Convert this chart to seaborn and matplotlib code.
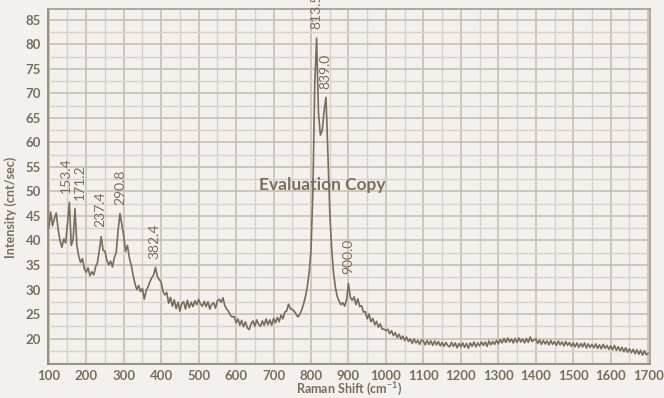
import numpy as np
import pandas as pd
import matplotlib
matplotlib.use('Agg')
import matplotlib.pyplot as plt
from matplotlib.ticker import MultipleLocator
import seaborn as sns

# Raman spectrum at 5 cm-1 steps (100 .. 1700)
shift = np.arange(100, 1701, 5)
intensity = [
    42.5, 45.8, 43.0, 44.5, 45.6, 42.3, 40.0, 38.6, 40.3, 39.5,
    43.5, 47.8, 39.0, 40.2, 46.5, 39.0, 36.8, 35.5, 36.3, 34.2,
    33.5, 34.4, 32.8, 33.6, 33.0, 34.6, 35.5, 38.0, 40.8, 38.0,
    37.8, 36.0, 35.0, 35.8, 34.6, 36.5, 37.5, 42.0, 45.5, 43.2,
    41.0, 37.8, 39.0, 36.5, 35.0, 33.0, 31.2, 30.0, 30.8, 29.6,
    30.2, 28.0, 29.8, 30.5, 31.6, 32.4, 33.0, 34.5, 32.6, 32.0,
    31.5, 29.6, 28.9, 29.4, 27.2, 28.4, 26.6, 27.9, 26.1, 27.4,
    25.6, 27.2, 27.5, 26.0, 27.8, 26.3, 27.4, 26.5, 27.7, 26.9,
    28.0, 27.0, 26.6, 27.6, 26.5, 27.5, 26.0, 27.0, 27.3, 26.2,
    27.7, 28.0, 27.4, 28.3, 26.7, 26.0, 25.5, 24.7, 24.4, 24.5,
    23.2, 24.0, 22.7, 23.7, 22.4, 23.4, 22.2, 21.8, 23.0, 23.6,
    22.5, 23.8, 22.9, 22.5, 23.6, 22.7, 24.0, 22.8, 23.8, 22.7,
    24.1, 23.2, 24.3, 23.4, 24.8, 24.0, 25.4, 25.6, 27.0, 26.1,
    25.9, 25.6, 25.0, 24.4, 24.9, 25.8, 27.0, 28.5, 30.5, 33.5,
    38.0, 50.0, 72.0, 81.3, 66.0, 61.5, 62.5, 66.5, 69.2, 58.0,
    46.0, 38.5, 33.5, 30.5, 28.6, 27.6, 26.9, 27.3, 26.6, 28.0,
    31.2, 28.4, 27.8, 28.5, 26.9, 28.1, 26.5, 26.7, 25.4, 25.5,
    24.0, 25.0, 23.4, 24.1, 22.8, 23.5, 22.3, 23.0, 21.9, 21.9,
    21.6, 21.9, 21.0, 21.6, 20.6, 21.2, 20.2, 20.9, 19.9, 20.5,
    19.6, 20.3, 19.4, 19.9, 19.0, 19.9, 19.1, 19.6, 18.8, 19.7,
    19.5, 18.7, 19.6, 18.8, 19.5, 18.6, 19.5, 18.7, 19.4, 18.5,
    19.2, 18.4, 19.2, 18.6, 18.3, 19.2, 18.4, 19.1, 18.1, 19.0,
    18.3, 19.1, 18.2, 19.0, 18.0, 19.1, 18.4, 19.3, 18.3, 19.1,
    18.5, 19.3, 18.6, 19.3, 18.4, 19.5, 18.7, 19.4, 18.8, 19.6,
    18.9, 19.8, 19.1, 20.0, 19.2, 20.1, 19.3, 19.9, 19.1, 20.0,
    19.2, 20.1, 19.3, 19.9, 19.1, 20.0, 19.2, 20.3, 19.4, 19.7,
    19.9, 19.0, 19.7, 18.8, 19.6, 18.9, 19.5, 18.7, 19.6, 18.8,
    19.4, 18.6, 19.5, 18.7, 19.3, 18.5, 19.4, 18.6, 19.2, 18.4,
    19.1, 18.3, 19.1, 18.2, 19.0, 18.3, 19.1, 18.1, 18.9, 18.2,
    18.8, 18.1, 18.9, 18.0, 18.7, 17.9, 18.8, 18.0, 18.6, 17.8,
    18.5, 17.7, 18.6, 17.6, 18.3, 17.5, 18.2, 17.3, 18.1, 17.2,
    17.9, 17.1, 17.8, 16.9, 17.7, 16.8, 17.6, 16.6, 17.5, 16.7,
    17.0,
]

# labelled peaks
peak_pos = [153.4, 171.2, 237.4, 290.8, 382.4, 813.5, 839.0, 900.0]
peak_height = [48.0, 46.5, 41.0, 45.5, 34.5, 81.5, 69.3, 31.5]
peak_text = ['153.4', '171.2', '237.4', '290.8', '382.4', '813.5', '839.0', '900.0']

bg = '#f3f0ed'
ink = '#7b6e5d'
line_col = '#7a6c5a'

sns.set_style('white', {'axes.facecolor': bg, 'figure.facecolor': bg})
plt.rcParams['font.family'] = ['Lato', 'DejaVu Sans']
plt.rcParams['font.weight'] = 'bold'
plt.rcParams['text.color'] = ink
plt.rcParams['axes.labelcolor'] = ink
plt.rcParams['axes.labelweight'] = 'bold'
plt.rcParams['xtick.color'] = '#9a8f80'
plt.rcParams['ytick.color'] = '#9a8f80'
plt.rcParams['mathtext.default'] = 'regular'

df = pd.DataFrame({'shift': shift, 'intensity': intensity})

fig = plt.figure(figsize=(6.64, 3.98), dpi=100)
ax = fig.add_axes([0.0723, 0.0854, 0.9067, 0.8916])

sns.lineplot(data=df, x='shift', y='intensity', ax=ax, color=line_col, linewidth=1.2)

ax.set_xlim(98, 1705)
ax.set_ylim(14.8, 87.2)
ax.xaxis.set_major_locator(MultipleLocator(100))
ax.xaxis.set_minor_locator(MultipleLocator(50))
ax.set_yticks(range(20, 90, 5))
ax.yaxis.set_minor_locator(MultipleLocator(2.5))

ax.grid(which='major', color='#c9bfb2', linewidth=1.2)
ax.grid(which='minor', color='#d9d1c7', linewidth=1.0)
ax.set_axisbelow(True)

ax.tick_params(which='both', direction='out', length=3, width=1,
               labelsize=9.5, labelcolor=ink, pad=2)
ax.tick_params(axis='x', pad=1.5)

for side in ['left', 'bottom']:
    ax.spines[side].set_color('#8e8373')
    ax.spines[side].set_linewidth(1.2)
for side in ['top', 'right']:
    ax.spines[side].set_color('#a69b8c')
    ax.spines[side].set_linewidth(1.2)

ax.set_xlabel('Raman Shift (cm$^{-1}$)', fontsize=9, labelpad=-1)
ax.set_ylabel('Intensity (cnt/sec)', fontsize=9)
ax.yaxis.set_label_coords(-0.052, 0.44)

# small sideways nudges so the two close labels do not collide
nudge = {'153.4': -2, '171.2': 3}
for pos, h, txt in zip(peak_pos, peak_height, peak_text):
    ax.annotate(txt, xy=(pos, h), xytext=(nudge.get(txt, 0), 6),
                textcoords='offset points', rotation=90, ha='center',
                va='bottom', fontsize=10, fontweight='normal',
                color=ink, annotation_clip=False)

ax.text(0.455, 0.505, 'Evaluation Copy', transform=ax.transAxes,
        ha='center', va='center', fontsize=12.5, color=ink)

fig.savefig('out.png', dpi=100, facecolor=bg)
